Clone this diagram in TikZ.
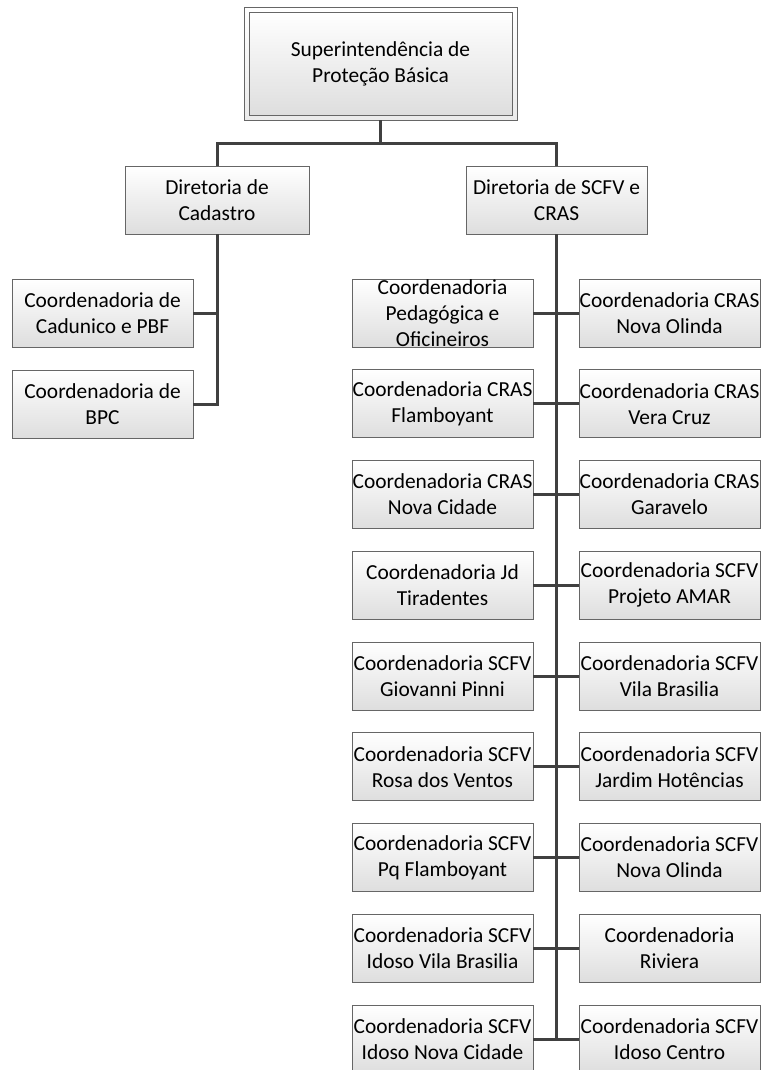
\documentclass[tikz,border=0pt]{standalone}
\usepackage{fontspec}
\setmainfont{Carlito}
\newcommand\orgfont{\fontsize{21.4}{26}\selectfont}
\tikzset{
  conn/.style={line width=3pt, draw=black!75},
  orgbox/.style={draw=black!60, line width=0.8pt, top color=white, bottom color=black!13,
    minimum width=181pt, minimum height=68pt, inner sep=0pt, align=center, font=\orgfont},
  lbl/.style={inner sep=0pt, align=center, font=\orgfont},
}
\begin{document}
\begin{tikzpicture}[x=1pt,y=-1pt]
\useasboundingbox (0,0) rectangle (763,1070);
% top box (double frame)
\node[draw=black!60, line width=0.8pt, top color=white, bottom color=black!8,
  minimum width=273pt, minimum height=113pt, inner sep=0pt] (topo) at (380.5,63.5) {};
\node[orgbox, minimum width=263pt, minimum height=103pt] (topi) at (380.5,63.5)
  {Superintendência de\\Proteção Básica};
% directorates
\node[orgbox, minimum width=184pt] (cad) at (217,200) {Diretoria de\\Cadastro};
\node[orgbox] (scfv) at (556.5,200) {Diretoria de SCFV e\\CRAS};
% cadastro children
\node[orgbox] (cadu) at (102.5,313.5) {Coordenadoria de\\Cadunico e PBF};
\node[orgbox] (bpc) at (102.5,404) {Coordenadoria de\\BPC};
% SCFV children
\node[orgbox, label={[lbl]center:Coordenadoria\\Pedagógica e\\Oficineiros}] (l1) at (442.5,313) {};
\node[orgbox] (r1) at (669.5,313) {Coordenadoria CRAS\\Nova Olinda};
\node[orgbox] (l2) at (442.5,403.75) {Coordenadoria CRAS\\Flamboyant};
\node[orgbox] (r2) at (669.5,403.75) {Coordenadoria CRAS\\Vera Cruz};
\node[orgbox] (l3) at (442.5,494.5) {Coordenadoria CRAS\\Nova Cidade};
\node[orgbox] (r3) at (669.5,494.5) {Coordenadoria CRAS\\Garavelo};
\node[orgbox] (l4) at (442.5,585.25) {Coordenadoria Jd\\Tiradentes};
\node[orgbox] (r4) at (669.5,585.25) {Coordenadoria SCFV\\Projeto AMAR};
\node[orgbox] (l5) at (442.5,676) {Coordenadoria SCFV\\Giovanni Pinni};
\node[orgbox] (r5) at (669.5,676) {Coordenadoria SCFV\\Vila Brasilia};
\node[orgbox] (l6) at (442.5,766.75) {Coordenadoria SCFV\\Rosa dos Ventos};
\node[orgbox] (r6) at (669.5,766.75) {Coordenadoria SCFV\\Jardim Hotências};
\node[orgbox] (l7) at (442.5,857.5) {Coordenadoria SCFV\\Pq Flamboyant};
\node[orgbox] (r7) at (669.5,857.5) {Coordenadoria SCFV\\Nova Olinda};
\node[orgbox] (l8) at (442.5,948.25) {Coordenadoria SCFV\\Idoso Vila Brasilia};
\node[orgbox] (r8) at (669.5,948.25) {Coordenadoria\\Riviera};
\node[orgbox] (l9) at (442.5,1039) {Coordenadoria SCFV\\Idoso Nova Cidade};
\node[orgbox] (r9) at (669.5,1039) {Coordenadoria SCFV\\Idoso Centro};
% connectors
\coordinate (hl) at (217,143);
\draw[conn] (topo.south) -- (topo.south |- hl);
\draw[conn] (cad.north) |- (scfv.north |- hl) -- (scfv.north);
\draw[conn] (cad.south) |- (bpc.east);
\draw[conn] (cadu.east) -- (cadu.east -| cad.south);
\draw[conn] (scfv.south) -- (scfv.south |- l9.east);
\foreach \i in {1,...,9} { \draw[conn] (l\i.east) -- (r\i.west); }
\end{tikzpicture}
\end{document}
